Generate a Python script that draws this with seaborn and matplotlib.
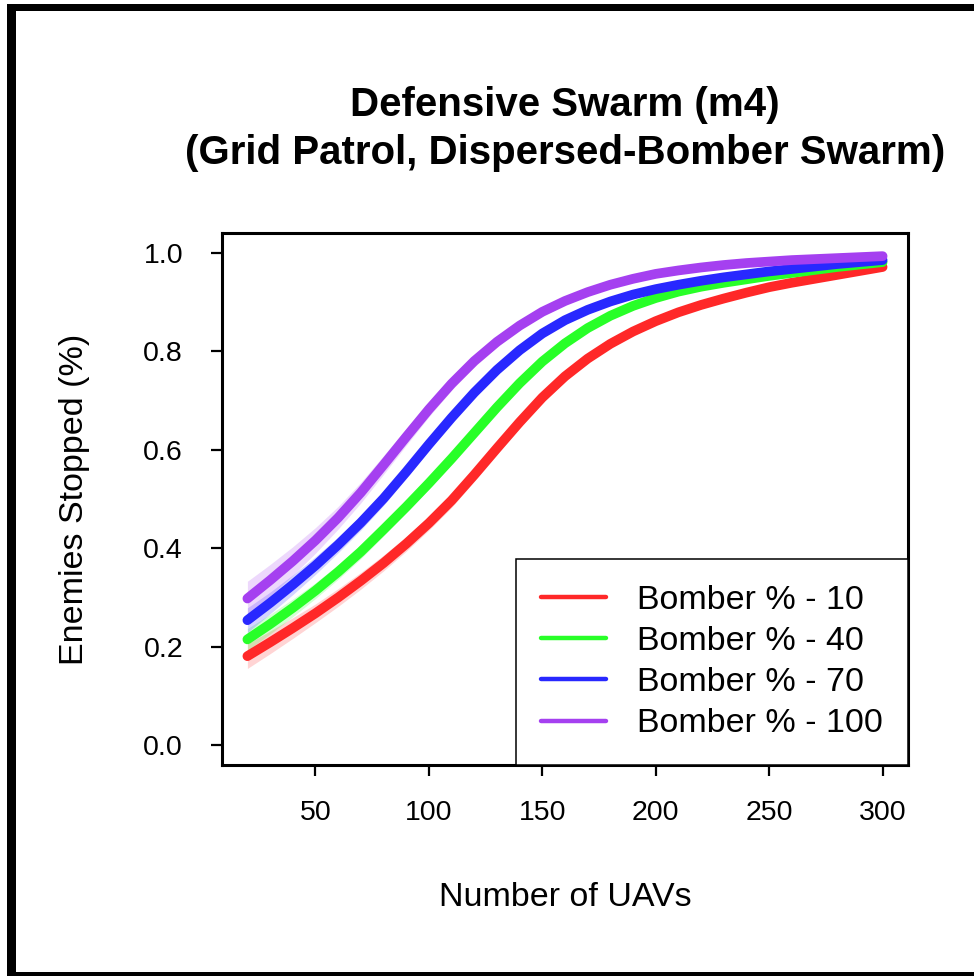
import numpy as np
import pandas as pd
import seaborn as sns
import matplotlib
matplotlib.use("Agg")
import matplotlib.pyplot as plt
from matplotlib.patches import Rectangle
from matplotlib.lines import Line2D

# ---------------- data ----------------
uavs = [20, 30, 40, 50, 60, 70, 80, 90, 100, 110, 120, 130, 140, 150, 160,
        170, 180, 190, 200, 210, 220, 230, 240, 250, 260, 270, 280, 290, 300]

bomber_10 = [0.181, 0.209, 0.238, 0.268, 0.300, 0.334, 0.370, 0.409, 0.451, 0.497,
             0.549, 0.603, 0.656, 0.706, 0.749, 0.785, 0.815, 0.840, 0.861, 0.879,
             0.894, 0.907, 0.919, 0.930, 0.939, 0.947, 0.955, 0.963, 0.971]
bomber_40 = [0.215, 0.246, 0.279, 0.314, 0.352, 0.393, 0.438, 0.484, 0.532, 0.582,
             0.634, 0.686, 0.735, 0.779, 0.816, 0.847, 0.872, 0.892, 0.908, 0.921,
             0.931, 0.939, 0.946, 0.953, 0.959, 0.965, 0.971, 0.976, 0.981]
bomber_70 = [0.254, 0.289, 0.326, 0.365, 0.407, 0.452, 0.501, 0.555, 0.611, 0.665,
             0.716, 0.762, 0.802, 0.836, 0.863, 0.884, 0.901, 0.915, 0.926, 0.935,
             0.943, 0.950, 0.956, 0.962, 0.967, 0.972, 0.977, 0.981, 0.985]
bomber_100 = [0.298, 0.335, 0.374, 0.416, 0.462, 0.513, 0.569, 0.626, 0.682, 0.734,
              0.780, 0.819, 0.852, 0.880, 0.902, 0.920, 0.935, 0.947, 0.957, 0.964,
              0.970, 0.975, 0.979, 0.982, 0.985, 0.987, 0.989, 0.991, 0.993]

# half-width of the shaded confidence band around each curve
band_10 = [0.025, 0.023, 0.021, 0.019, 0.018, 0.017, 0.016, 0.015, 0.014, 0.014,
           0.013, 0.013, 0.012, 0.011, 0.010, 0.009, 0.008, 0.008, 0.007, 0.007,
           0.006, 0.006, 0.005, 0.005, 0.005, 0.004, 0.004, 0.004, 0.004]
band_40 = [0.022, 0.020, 0.018, 0.016, 0.015, 0.014, 0.013, 0.012, 0.012, 0.011,
           0.011, 0.010, 0.010, 0.009, 0.008, 0.008, 0.007, 0.006, 0.006, 0.005,
           0.005, 0.005, 0.004, 0.004, 0.004, 0.003, 0.003, 0.003, 0.003]
band_70 = [0.025, 0.022, 0.020, 0.018, 0.016, 0.015, 0.014, 0.013, 0.012, 0.011,
           0.010, 0.010, 0.009, 0.008, 0.007, 0.007, 0.006, 0.005, 0.005, 0.004,
           0.004, 0.004, 0.003, 0.003, 0.003, 0.003, 0.002, 0.002, 0.002]
band_100 = [0.035, 0.032, 0.029, 0.026, 0.023, 0.021, 0.019, 0.017, 0.015, 0.013,
            0.012, 0.010, 0.009, 0.008, 0.007, 0.006, 0.005, 0.005, 0.004, 0.004,
            0.003, 0.003, 0.003, 0.003, 0.002, 0.002, 0.002, 0.002, 0.002]

series_labels = ["Bomber % - 10", "Bomber % - 40", "Bomber % - 70", "Bomber % - 100"]
series_values = [bomber_10, bomber_40, bomber_70, bomber_100]
series_bands = [band_10, band_40, band_70, band_100]
series_colors = ["#ff2828", "#28ff28", "#2828ff", "#a540f0"]

x_ticks = [50, 100, 150, 200, 250, 300]
y_ticks = [0.0, 0.2, 0.4, 0.6, 0.8, 1.0]

title_line1 = "Defensive Swarm (m4)"
title_line2 = "(Grid Patrol, Dispersed-Bomber Swarm)"
x_label = "Number of UAVs"
y_label = "Enemies Stopped (%)"

# ---------------- build long table ----------------
rows = []
for lab, vals, bands in zip(series_labels, series_values, series_bands):
    for u, v, b in zip(uavs, vals, bands):
        rows.append({"uavs": u, "stopped": v, "lo": v - b, "hi": v + b, "group": lab})
df = pd.DataFrame(rows)

# ---------------- style ----------------
sns.set_theme(style="ticks")
plt.rcParams["font.family"] = ["Liberation Sans", "DejaVu Sans"]
plt.rcParams["text.color"] = "black"

W, H = 974, 976
fig = plt.figure(figsize=(W / 100, H / 100), dpi=100)
fig.patch.set_facecolor("white")

ax_l, ax_r, ax_t, ax_b = 222, 908, 233, 765
ax = fig.add_axes([ax_l / W, 1 - ax_b / H, (ax_r - ax_l) / W, (ax_b - ax_t) / H])
ax.set_facecolor("white")

palette = dict(zip(series_labels, series_colors))

# confidence bands
for lab in series_labels:
    sub = df[df["group"] == lab]
    ax.fill_between(sub["uavs"], sub["lo"], sub["hi"], color=palette[lab],
                    alpha=0.2, linewidth=0, zorder=1)

sns.lineplot(data=df, x="uavs", y="stopped", hue="group", palette=palette,
             hue_order=series_labels, linewidth=7, ax=ax, legend=False,
             zorder=2, errorbar=None)
for ln in ax.get_lines():
    ln.set_solid_capstyle("round")
    ln.set_solid_joinstyle("round")

ax.set_xlim(8.8, 311.2)
ax.set_ylim(-0.04, 1.04)
ax.set_xticks(x_ticks)
ax.set_xticklabels([str(t) for t in x_ticks])
ax.set_yticks(y_ticks)
ax.set_yticklabels([f"{t:.1f}" for t in y_ticks])
ax.set_xlabel("")
ax.set_ylabel("")

for sp in ax.spines.values():
    sp.set_visible(True)
    sp.set_color("black")
    sp.set_linewidth(2.2)

ax.tick_params(axis="both", direction="out", length=8, width=1.6,
               color="black", labelsize=20.5, labelcolor="black")
ax.tick_params(axis="x", pad=17)
ax.tick_params(axis="y", pad=20)

# legend
handles = [Line2D([0], [0], color=c, lw=3.2, solid_capstyle="round") for c in series_colors]
leg = ax.legend(handles, series_labels, loc="lower right", bbox_to_anchor=(1, 0),
                borderaxespad=0.0, fontsize=24.5, frameon=True, fancybox=False,
                handlelength=1.9, handletextpad=0.9, labelspacing=0.3,
                borderpad=0.75)
leg.get_frame().set_edgecolor("black")
leg.get_frame().set_linewidth(1.1)
leg.get_frame().set_facecolor("white")
leg.get_frame().set_alpha(1.0)
for t in leg.get_texts():
    t.set_color("black")

# titles and axis labels
cx = (ax_l + ax_r) / 2 / W
fig.text(cx, 1 - 105 / H, title_line1, ha="center", va="center",
         fontsize=29, fontweight="bold", color="black")
fig.text(cx, 1 - 153 / H, title_line2, ha="center", va="center",
         fontsize=29, fontweight="bold", color="black")
fig.text(cx, 1 - 897 / H, x_label, ha="center", va="center", fontsize=24.5, color="black")
fig.text(75 / W, 1 - 499 / H, y_label, ha="center", va="center", rotation=90,
         fontsize=24.5, color="black")

# outer black frame (partially cropped in the reference)
fig.add_artist(Rectangle((7 / W, 0), 9 / W, 1 - 4 / H, transform=fig.transFigure,
                         facecolor="black", edgecolor="none"))
fig.add_artist(Rectangle((7 / W, 1 - 11 / H), 1 - 7 / W, 7 / H, transform=fig.transFigure,
                         facecolor="black", edgecolor="none"))
fig.add_artist(Rectangle((7 / W, 0), 1 - 7 / W, 4 / H, transform=fig.transFigure,
                         facecolor="black", edgecolor="none"))

fig.savefig("out.png", dpi=100, facecolor="white")
